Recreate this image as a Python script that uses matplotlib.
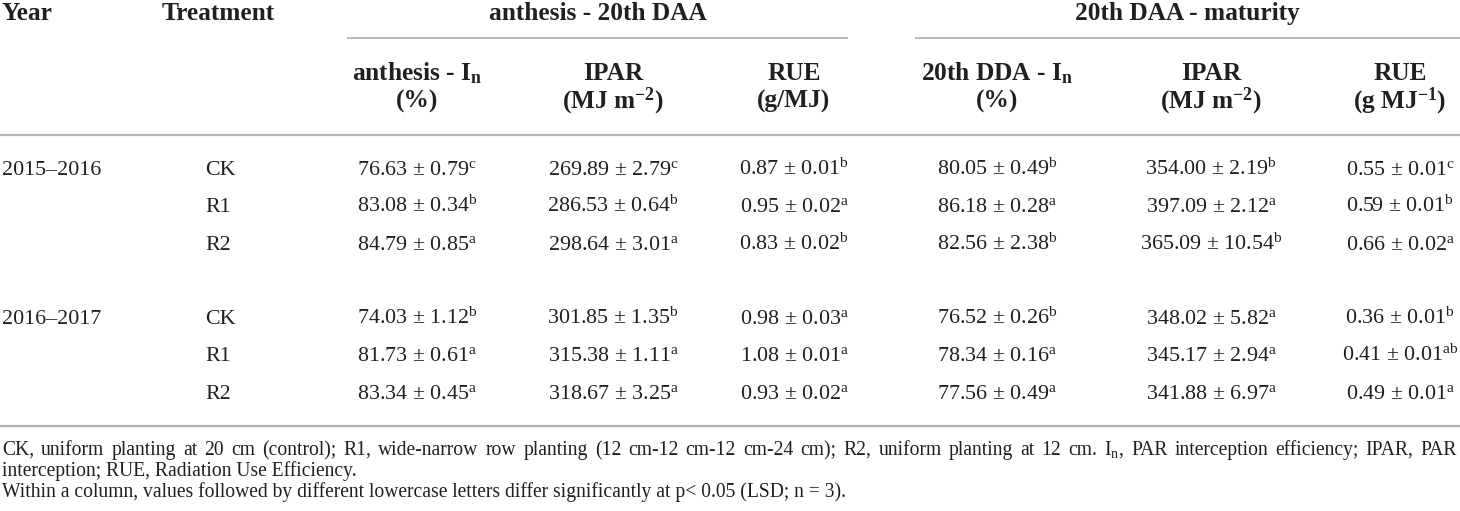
import matplotlib
matplotlib.use("Agg")
import matplotlib.pyplot as plt

plt.rcParams["font.family"] = ["Liberation Serif", "DejaVu Serif"]
plt.rcParams["mathtext.fontset"] = "custom"
plt.rcParams["mathtext.rm"] = "Liberation Serif"
plt.rcParams["mathtext.bf"] = "Liberation Serif:bold"
plt.rcParams["mathtext.it"] = "Liberation Serif:italic"
plt.rcParams["mathtext.default"] = "regular"

# datos de la tabla
years = ["2015–2016", "2016–2017"]
treatments = ["CK", "R1", "R2"]

anth_in_mean = [76.63, 83.08, 84.79, 74.03, 81.73, 83.34]
anth_in_se = [0.79, 0.34, 0.85, 1.12, 0.61, 0.45]
anth_in_let = ["c", "b", "a", "b", "a", "a"]

anth_ipar_mean = [269.89, 286.53, 298.64, 301.85, 315.38, 318.67]
anth_ipar_se = [2.79, 0.64, 3.01, 1.35, 1.11, 3.25]
anth_ipar_let = ["c", "b", "a", "b", "a", "a"]

anth_rue_mean = [0.87, 0.95, 0.83, 0.98, 1.08, 0.93]
anth_rue_se = [0.01, 0.02, 0.02, 0.03, 0.01, 0.02]
anth_rue_let = ["b", "a", "b", "a", "a", "a"]

mat_in_mean = [80.05, 86.18, 82.56, 76.52, 78.34, 77.56]
mat_in_se = [0.49, 0.28, 2.38, 0.26, 0.16, 0.49]
mat_in_let = ["b", "a", "b", "b", "a", "a"]

mat_ipar_mean = [354.00, 397.09, 365.09, 348.02, 345.17, 341.88]
mat_ipar_se = [2.19, 2.12, 10.54, 5.82, 2.94, 6.97]
mat_ipar_let = ["b", "a", "b", "a", "a", "a"]

mat_rue_mean = [0.55, 0.59, 0.66, 0.36, 0.41, 0.49]
mat_rue_se = [0.01, 0.01, 0.02, 0.01, 0.01, 0.01]
mat_rue_let = ["c", "b", "a", "b", "ab", "a"]

group_labels = ["anthesis - 20th DAA", "20th DAA - maturity"]
col_labels = [
    ("anthesis - I$_{n}$", "(%)"),
    ("IPAR", "(MJ m$^{-2}$)"),
    ("RUE", "(g/MJ)"),
    ("20th DDA - I$_{n}$", "(%)"),
    ("IPAR", "(MJ m$^{-2}$)"),
    ("RUE", "(g MJ$^{-1}$)"),
]

notes = [
    "CK, uniform planting at 20 cm (control); R1, wide-narrow row planting (12 cm-12 cm-12 cm-24 cm); "
    "R2, uniform planting at 12 cm. I$_{n}$, PAR interception efficiency; IPAR, PAR",
    "interception; RUE, Radiation Use Efficiency.",
    "Within a column, values followed by different lowercase letters differ significantly at p< 0.05 (LSD; n = 3).",
]

columns = [
    (anth_in_mean, anth_in_se, anth_in_let),
    (anth_ipar_mean, anth_ipar_se, anth_ipar_let),
    (anth_rue_mean, anth_rue_se, anth_rue_let),
    (mat_in_mean, mat_in_se, mat_in_let),
    (mat_ipar_mean, mat_ipar_se, mat_ipar_let),
    (mat_rue_mean, mat_rue_se, mat_rue_let),
]

W, H = 1460, 511
fig = plt.figure(figsize=(W / 100, H / 100), dpi=100)
ax = fig.add_axes([0, 0, 1, 1])
ax.set_xlim(0, W)
ax.set_ylim(H, 0)
ax.axis("off")

txt = "#231f20"
rule = "#b4b4b4"
fs_head = 18.3
fs_body = 15.8
fs_note = 14.1

col_x = [417, 613, 794, 997, 1211, 1400]
row_y = [175, 212, 250, 324, 361, 399]
group_x = [(347, 848), (915, 1460)]

# encabezados
ax.text(2, 20, "Year", fontsize=fs_head, fontweight="bold", color=txt, va="baseline")
ax.text(162, 20, "Treatment", fontsize=fs_head, fontweight="bold", color=txt, va="baseline")
for label, (x0, x1) in zip(group_labels, group_x):
    ax.text((x0 + x1) / 2, 20, label, fontsize=fs_head, fontweight="bold",
            color=txt, ha="center", va="baseline")
    ax.plot([x0, x1], [38, 38], color=rule, lw=1.3, solid_capstyle="butt")

for (l1, l2), x in zip(col_labels, col_x):
    ax.text(x, 80, l1, fontsize=fs_head, fontweight="bold", color=txt, ha="center", va="baseline")
    ax.text(x, 108, l2, fontsize=fs_head, fontweight="bold", color=txt, ha="center", va="baseline")

ax.plot([0, W], [135, 135], color=rule, lw=1.6, solid_capstyle="butt")
ax.plot([0, W], [426, 426], color=rule, lw=1.6, solid_capstyle="butt")

# filas
for i in range(len(years) * len(treatments)):
    y = row_y[i]
    if i % len(treatments) == 0:
        ax.text(2, y, years[i // len(treatments)], fontsize=fs_body, color=txt, va="baseline")
    ax.text(205, y, treatments[i % len(treatments)], fontsize=fs_body, color=txt, va="baseline")
    for (mean, se, let), x in zip(columns, col_x):
        s = f"{mean[i]:.2f} ± {se[i]:.2f}$^{{{let[i]}}}$"
        ax.text(x, y, s, fontsize=fs_body, color=txt, ha="center", va="baseline")

# notas al pie, la primera justificada
fig.canvas.draw()
renderer = fig.canvas.get_renderer()
words = notes[0].split(" ")
arts = [ax.text(0, 455, w, fontsize=fs_note, color=txt, va="baseline") for w in words]
widths = [a.get_window_extent(renderer).width for a in arts]
left, right = 2, 1457
gap = (right - left - sum(widths)) / (len(words) - 1)
x = left
for a, w in zip(arts, widths):
    a.set_x(x)
    x += w + gap

ax.text(2, 476, notes[1], fontsize=fs_note, color=txt, va="baseline")
ax.text(2, 497, notes[2], fontsize=fs_note, color=txt, va="baseline")

fig.savefig("out.png", dpi=100)
